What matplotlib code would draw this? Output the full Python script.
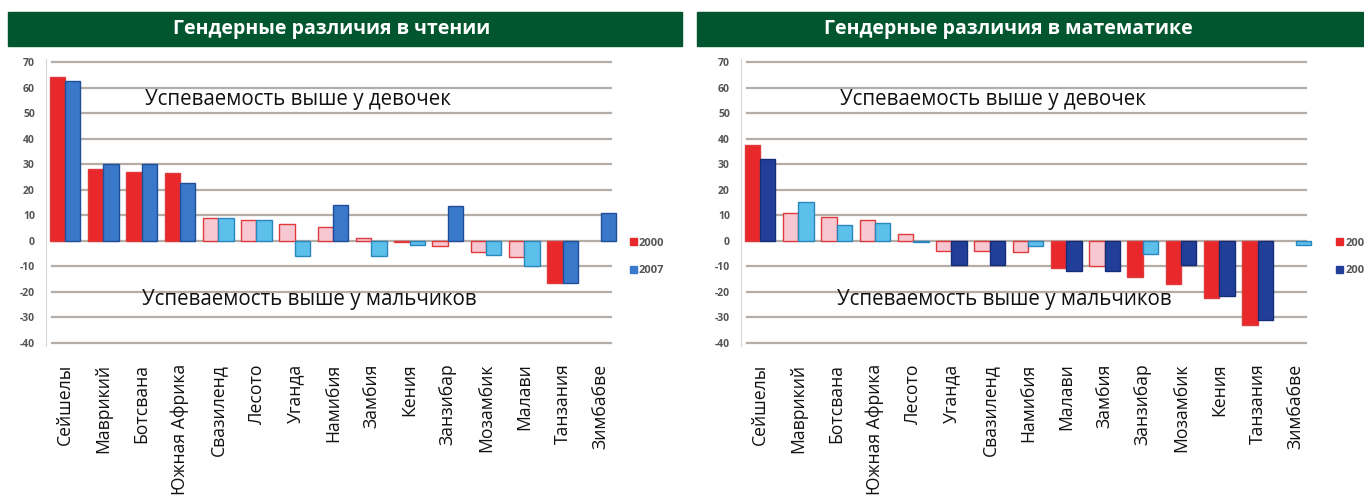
import numpy as np
import matplotlib.pyplot as plt
from matplotlib.patches import Rectangle, Patch

plt.rcParams['font.family'] = ['Open Sans', 'DejaVu Sans']

# --- reading chart ---
read_countries = ["Сейшелы", "Маврикий", "Ботсвана", "Южная Африка", "Свазиленд", "Лесото",
                  "Уганда", "Намибия", "Замбия", "Кения", "Занзибар", "Мозамбик", "Малави",
                  "Танзания", "Зимбабве"]
read_2000 = [64, 28, 27, 26.5, 9, 8, 6.5, 5.5, 1, -0.5, -2, -4.5, -6.5, -16.5, np.nan]
read_2000_sig = [1, 1, 1, 1, 0, 0, 0, 0, 0, 0, 0, 0, 0, 1, 0]
read_2007 = [62.5, 30, 30, 22.5, 9, 8, -6, 14, -6, -1.5, 13.5, -5.5, -10, -16.5, 11]
read_2007_sig = [1, 1, 1, 1, 0, 0, 0, 1, 0, 0, 1, 0, 0, 1, 1]

# --- math chart ---
math_countries = ["Сейшелы", "Маврикий", "Ботсвана", "Южная Африка", "Лесото", "Уганда",
                  "Свазиленд", "Намибия", "Малави", "Замбия", "Занзибар", "Мозамбик", "Кения",
                  "Танзания", "Зимбабве"]
math_2000 = [37.5, 11, 9.5, 8, 2.5, -4, -4, -4.5, -10.5, -10, -14, -17, -22.5, -33, np.nan]
math_2000_sig = [1, 0, 0, 0, 0, 0, 0, 0, 1, 0, 1, 1, 1, 1, 0]
math_2007 = [32, 15, 6, 7, -0.5, -9.5, -9.5, -2, -12, -12, -5, -9.5, -21.5, -31, -1.5]
math_2007_sig = [1, 0, 0, 0, 0, 1, 1, 0, 1, 1, 0, 1, 1, 1, 0]

yticks = [-40, -30, -20, -10, 0, 10, 20, 30, 40, 50, 60, 70]

W, H = 1364, 504
fig = plt.figure(figsize=(W / 100, H / 100), dpi=100)
GREEN = "#02562f"

def px_box(x0, y0, x1, y1):
    return [x0 / W, 1 - y1 / H, (x1 - x0) / W, (y1 - y0) / H]

def panel(left_px, title, bar_x0, bar_x1, title_x, countries, v0, s0, v1, s1,
          strong0, light0, edge0, strong1, light1, edge1, leg_x):
    # green title band
    bx = px_box(bar_x0, 12, bar_x1, 46)
    fig.add_artist(Rectangle((bx[0], bx[1]), bx[2], bx[3], transform=fig.transFigure,
                             color=GREEN, zorder=0))
    fig.text(title_x / W, bx[1] + bx[3] / 2, title, color="white", fontsize=14,
             fontweight="bold", ha="center", va="center")

    ax = fig.add_axes(px_box(left_px, 59.4, left_px + 574, 345.6))
    x = np.arange(len(countries))
    w = 0.4
    c0 = [strong0 if s else light0 for s in s0]
    c1 = [strong1 if s else light1 for s in s1]
    e1 = [edge1 if s else "#2b86bd" for s in s1]
    ax.bar(x - w / 2, v0, w, color=c0, edgecolor=edge0, linewidth=1.0, zorder=3)
    ax.bar(x + w / 2, v1, w, color=c1, edgecolor=e1, linewidth=1.0, zorder=3)

    ax.set_xlim(-0.5, len(countries) - 0.5)
    ax.set_ylim(-41, 71)
    ax.set_yticks(yticks)
    ax.set_yticklabels([str(t) for t in yticks], fontsize=7.5, fontweight="bold", color="#555555")
    ax.set_xticks(x)
    ax.set_xticklabels(countries, rotation=90, fontsize=12.7, color="#111111")
    ax.tick_params(axis="both", length=0)
    ax.tick_params(axis="x", pad=13)
    ax.tick_params(axis="y", pad=8)
    for t in yticks:
        ax.axhline(t, color="#b5ada6", lw=1.6, zorder=1, xmin=0.01, xmax=0.985)
    for sp in ["top", "right", "bottom"]:
        ax.spines[sp].set_visible(False)
    ax.spines["left"].set_color("#d5d5d5")
    ax.set_facecolor("white")

    ax.text(2.1, 55.5, "Успеваемость выше у девочек", fontsize=14.8, color="#111111",
            va="center", ha="left", zorder=4)
    ax.text(2.0, -23, "Успеваемость выше у мальчиков", fontsize=14.8, color="#111111",
            va="center", ha="left", zorder=4)

    handles = [Patch(color=strong0, label="2000"), Patch(color=strong1, label="2007")]
    leg = ax.legend(handles=handles, loc="center left", bbox_to_anchor=(leg_x, 0.31),
                    frameon=False, handlelength=0.6, handleheight=0.6, handletextpad=0.2,
                    labelspacing=1.5, prop={"size": 8, "weight": "bold"})
    for t in leg.get_texts():
        t.set_color("#555555")
    return ax

panel(46, "Гендерные различия в чтении", 8, 682, 332, read_countries,
      read_2000, read_2000_sig, read_2007, read_2007_sig,
      "#e8282b", "#f8c8d2", "#e0393c", "#3a78c9", "#5cc0ea", "#1f4f99", 1.0)

panel(741, "Гендерные различия в математике", 697, 1364, 1008, math_countries,
      math_2000, math_2000_sig, math_2007, math_2007_sig,
      "#e8282b", "#f8c8d2", "#e0393c", "#213f98", "#5cc0ea", "#152c78", 1.02)

fig.savefig("out.png", dpi=100)
